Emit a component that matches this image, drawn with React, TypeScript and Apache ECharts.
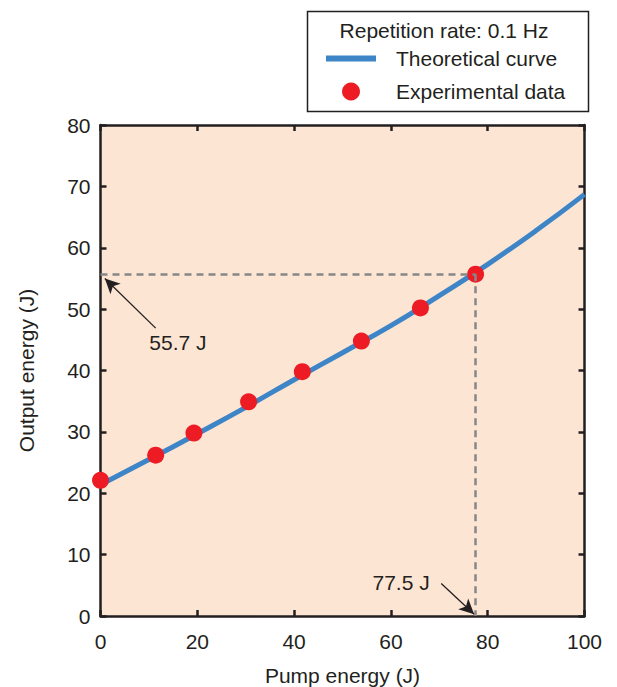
import React, { useEffect, useRef } from "react";
import * as echarts from "echarts";

const curveX = [0, 10, 20, 30, 40, 50, 60, 70, 80, 90, 100];
const curveY = [21.4, 25.5, 29.7, 34.0, 38.5, 42.9, 47.3, 52.2, 57.3, 62.8, 68.7];
const expX = [0, 11.4, 19.3, 30.6, 41.7, 53.9, 66.1, 77.5];
const expY = [22.1, 26.2, 29.8, 34.9, 39.8, 44.8, 50.2, 55.7];
const markX = 77.5;
const markY = 55.7;
const xTicks = { min: 0, max: 100, interval: 20 };
const yTicks = { min: 0, max: 80, interval: 10 };
const legendTitle = "Repetition rate: 0.1 Hz";
const seriesNames = ["Theoretical curve", "Experimental data"];
const xName = "Pump energy (J)";
const yName = "Output energy (J)";
const labelY = "55.7 J";
const labelX = "77.5 J";

const FONT = "Liberation Sans, Arial, Helvetica, sans-serif";
const DARK = "#231f20";
const FS = 21;

function axisLine() {
  return { show: true, onZero: false, lineStyle: { color: DARK, width: 2.5 } };
}
function axisTick() {
  return { show: true, inside: true, length: 6, lineStyle: { color: DARK, width: 2.5 } };
}

export default function App() {
  const ref = useRef<HTMLDivElement>(null);
  useEffect(() => {
    if (!ref.current) return;
    const chart = echarts.init(ref.current, null, { renderer: "svg" });
    const option: any = {
      animation: false,
      backgroundColor: "#ffffff",
      textStyle: { fontFamily: FONT },
      grid: {
        left: 100.5,
        right: 32.5,
        top: 125,
        bottom: 71,
        show: true,
        backgroundColor: "#fde5d4",
        borderWidth: 0,
        outerBoundsMode: "none",
        containLabel: false,
      },
      legend: {
        show: true,
        orient: "vertical",
        left: 326,
        top: 48,
        itemWidth: 50,
        itemHeight: 18,
        itemGap: 12,
        padding: 0,
        symbolKeepAspect: true,
        data: [
          { name: seriesNames[0], icon: "path://M0,0L50,0L50,6L0,6Z" },
          { name: seriesNames[1], icon: "circle" },
        ],
        textStyle: { fontSize: FS, color: DARK, fontFamily: FONT, padding: [0, 0, 0, 15] },
      },
      graphic: [
        {
          type: "rect",
          left: 305,
          top: 9,
          shape: { width: 281, height: 100 },
          style: { fill: "none", stroke: DARK, lineWidth: 1.5 },
          z: 10,
        },
        {
          type: "text",
          x: 444,
          y: 30,
          style: {
            text: legendTitle,
            fontSize: FS,
            fontFamily: FONT,
            fill: DARK,
            textAlign: "center",
            textVerticalAlign: "middle",
          },
          z: 10,
        },
      ],
      xAxis: [
        {
          type: "value",
          ...xTicks,
          position: "bottom",
          axisLine: axisLine(),
          axisTick: axisTick(),
          splitLine: { show: false },
          axisLabel: { fontSize: FS, color: DARK, margin: 15, fontFamily: FONT },
          name: xName,
          nameLocation: "middle",
          nameGap: 49,
          nameTextStyle: { fontSize: FS, color: DARK, fontFamily: FONT },
        },
        {
          type: "value",
          ...xTicks,
          position: "top",
          axisLine: axisLine(),
          axisTick: axisTick(),
          splitLine: { show: false },
          axisLabel: { show: false },
        },
      ],
      yAxis: [
        {
          type: "value",
          ...yTicks,
          position: "left",
          axisLine: axisLine(),
          axisTick: axisTick(),
          splitLine: { show: false },
          axisLabel: { fontSize: FS, color: DARK, margin: 10, fontFamily: FONT },
          name: yName,
          nameLocation: "middle",
          nameGap: 64,
          nameTextStyle: { fontSize: FS, color: DARK, fontFamily: FONT },
        },
        {
          type: "value",
          ...yTicks,
          position: "right",
          axisLine: axisLine(),
          axisTick: axisTick(),
          splitLine: { show: false },
          axisLabel: { show: false },
        },
      ],
      series: [
        {
          name: seriesNames[0],
          type: "line",
          xAxisIndex: 0,
          yAxisIndex: 0,
          data: curveX.map((x, i) => [x, curveY[i]]),
          smooth: true,
          symbol: "none",
          showSymbol: false,
          lineStyle: { color: "#3d85c6", width: 5 },
          itemStyle: { color: "#3d85c6" },
          z: 3,
          markLine: {
            silent: true,
            symbol: ["none", "none"],
            label: { show: false },
            lineStyle: { color: "#878787", width: 2.5, type: [7, 5] },
            data: [
              [{ coord: [xTicks.min, markY] }, { coord: [markX, markY] }],
              [{ coord: [markX, markY] }, { coord: [markX, yTicks.min] }],
            ],
          },
        },
        {
          name: seriesNames[1],
          type: "scatter",
          xAxisIndex: 0,
          yAxisIndex: 0,
          data: expX.map((x, i) => [x, expY[i]]),
          symbol: "circle",
          symbolSize: 17,
          itemStyle: { color: "#ed1c24", opacity: 1 },
          z: 4,
          markLine: {
            silent: true,
            symbol: ["none", "arrow"],
            symbolSize: [11, 15],
            label: { show: false },
            lineStyle: { color: DARK, width: 1.3, type: "solid" },
            data: [
              [{ coord: [11.4, 46.9] }, { coord: [0.9, 55.0] }],
              [{ coord: [70.4, 5.3] }, { coord: [77.2, 0.3] }],
            ],
          },
          markPoint: {
            silent: true,
            symbol: "circle",
            symbolSize: 1,
            itemStyle: { color: "rgba(0,0,0,0)" },
            label: {
              show: true,
              position: "inside",
              fontSize: FS,
              color: DARK,
              fontFamily: FONT,
            },
            data: [
              { coord: [16.0, 44.5], label: { formatter: labelY } },
              { coord: [62.1, 5.4], label: { formatter: labelX } },
            ],
          },
        },
      ],
    };
    chart.setOption(option);
    return () => chart.dispose();
  }, []);
  return <div ref={ref} style={{ width: 617, height: 687, position: "absolute", left: 0, top: 0 }} />;
}
